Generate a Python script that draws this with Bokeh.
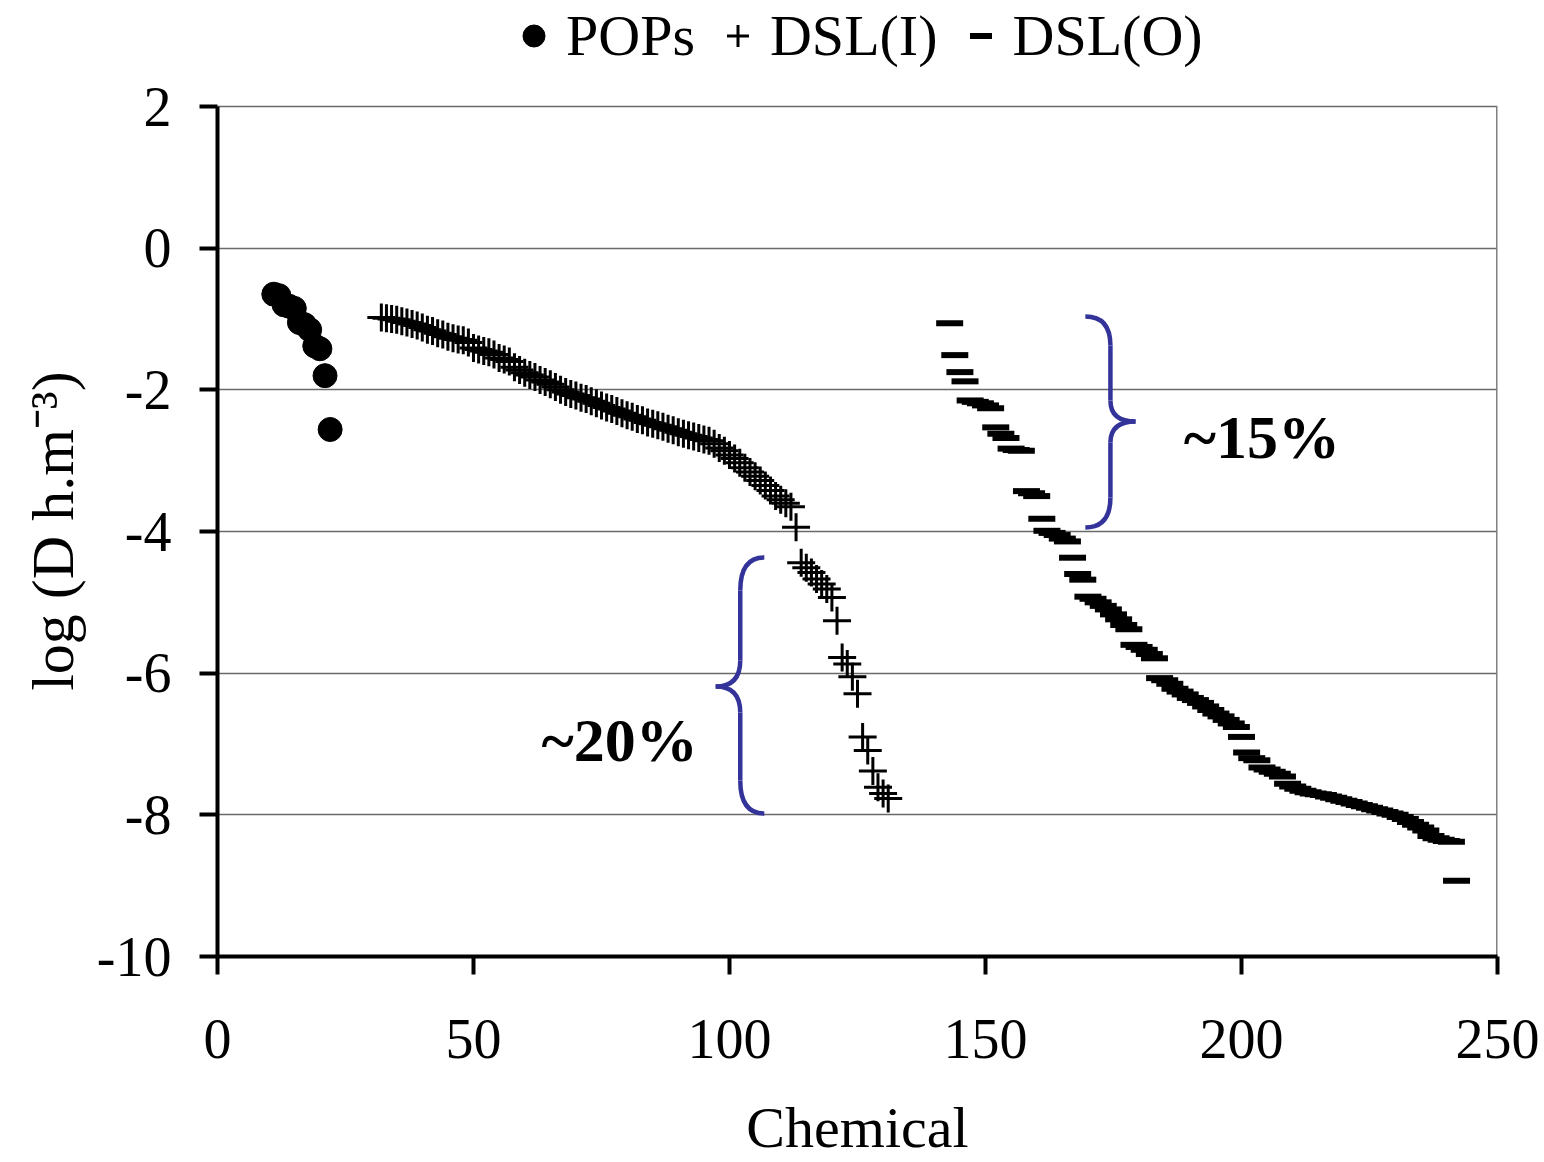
from bokeh.plotting import figure
from bokeh.models import (Range1d, FixedTicker, Legend, LegendItem, Label,
                          PrintfTickFormatter)
from bokeh.embed import file_html
from bokeh.resources import INLINE

FONT = "Liberation Serif"
BRACE_COLOR = "#333399"

# ---------------- data ----------------
pops_x = list(range(11, 23))
pops_y = [-0.65, -0.67, -0.80, -0.82, -0.85, -1.05, -1.08, -1.15, -1.38, -1.42, -1.80, -2.56]

dsli_x = list(range(32, 132))
dsli_y = [
    -0.98, -0.99, -1.00, -1.01, -1.03, -1.05, -1.07, -1.09, -1.12, -1.15,
    -1.17, -1.20, -1.22, -1.25, -1.27, -1.29, -1.30, -1.33, -1.41, -1.43,
    -1.45, -1.47, -1.50, -1.55, -1.57, -1.60, -1.68, -1.72, -1.76, -1.79,
    -1.82, -1.86, -1.89, -1.92, -1.96, -2.00, -2.03, -2.06, -2.08, -2.11,
    -2.13, -2.16, -2.19, -2.22, -2.25, -2.27, -2.30, -2.33, -2.36, -2.38,
    -2.41, -2.43, -2.46, -2.48, -2.50, -2.52, -2.55, -2.57, -2.60, -2.62,
    -2.64, -2.66, -2.68, -2.70, -2.72, -2.76, -2.82, -2.86, -2.92, -2.97,
    -3.03, -3.10, -3.16, -3.22, -3.28, -3.35, -3.42, -3.50, -3.55, -3.60,
    -3.65, -3.94, -4.44, -4.51, -4.58, -4.67, -4.74, -4.81, -4.93, -5.26,
    -5.78, -5.87, -6.05, -6.29, -6.90, -7.09, -7.38, -7.61, -7.70, -7.77,
]

dslo_x = list(range(143, 243))
dslo_y = [
    -1.06, -1.51, -1.75, -1.88, -2.15, -2.17, -2.19, -2.22, -2.26, -2.53,
    -2.62, -2.68, -2.83, -2.85, -2.86, -3.43, -3.46, -3.50, -3.82, -3.99,
    -4.02, -4.05, -4.10, -4.14, -4.37, -4.60, -4.68, -4.92, -4.95, -5.00,
    -5.05, -5.10, -5.17, -5.24, -5.32, -5.38, -5.60, -5.63, -5.67, -5.73,
    -5.79, -6.07, -6.10, -6.15, -6.22, -6.26, -6.30, -6.35, -6.38, -6.42,
    -6.47, -6.52, -6.57, -6.61, -6.66, -6.71, -6.76, -6.90, -7.12, -7.20,
    -7.23, -7.33, -7.36, -7.39, -7.42, -7.46, -7.56, -7.60, -7.63, -7.66,
    -7.68, -7.70, -7.71, -7.72, -7.74, -7.76, -7.78, -7.80, -7.82, -7.84,
    -7.86, -7.88, -7.90, -7.92, -7.94, -7.96, -7.98, -8.00, -8.03, -8.06,
    -8.10, -8.14, -8.18, -8.22, -8.30, -8.33, -8.35, -8.37, -8.38, -8.93,
]

x_ticks = [0, 50, 100, 150, 200, 250]
y_ticks = [-10, -8, -6, -4, -2, 0, 2]
series_names = ["POPs", "DSL(I)", "DSL(O)"]
x_title = "Chemical"
# trailing no-break spaces shift the rotated title down to sit beside the plotted band
y_title = "log (D h.m\u207b\u00b3)" + "\u00a0" * 7

X_MIN, X_MAX = 0, 250
Y_MIN, Y_MAX = -10, 2
# extra headroom above the plotted area so the legend sits inside the canvas frame
Y_TOP = Y_MAX + 106 / (850 / 12)

# ---------------- figure ----------------
p = figure(width=1544, height=1162, output_backend="svg", toolbar_location=None,
           x_range=Range1d(X_MIN, X_MAX), y_range=Range1d(Y_MIN, Y_TOP),
           min_border_left=217, min_border_right=47, min_border_top=0, min_border_bottom=206)
p.background_fill_color = "white"
p.border_fill_color = "white"
p.outline_line_color = None

p.xgrid.visible = False
p.ygrid.grid_line_color = "#6a6a6a"
p.ygrid.grid_line_width = 1.3

p.xaxis.ticker = FixedTicker(ticks=x_ticks)
p.yaxis.ticker = FixedTicker(ticks=y_ticks)
p.yaxis.bounds = (Y_MIN, Y_MAX)
for ax in (p.xaxis, p.yaxis):
    ax.formatter = PrintfTickFormatter(format="%d")
    ax.axis_line_width = 4
    ax.axis_line_color = "black"
    ax.major_tick_line_width = 4
    ax.major_tick_line_color = "black"
    ax.major_tick_out = 18
    ax.major_tick_in = 0
    ax.minor_tick_out = 0
    ax.minor_tick_in = 0
    ax.major_label_text_font = FONT
    ax.major_label_text_font_size = "56px"
    ax.major_label_text_color = "black"
    ax.axis_label_text_font = FONT
    ax.axis_label_text_font_style = "normal"
    ax.axis_label_text_color = "black"
    ax.axis_label_text_font_size = "58px"
p.yaxis.axis_label_text_font_size = "60px"
p.xaxis.major_label_standoff = 45
p.yaxis.major_label_standoff = 28
p.xaxis.axis_label = x_title
p.xaxis.axis_label_standoff = 34
p.yaxis.axis_label = y_title
p.yaxis.axis_label_standoff = 8

# right border of the plot area (frame edge at x = X_MAX)
p.segment(x0=[X_MAX], y0=[Y_MIN], x1=[X_MAX], y1=[Y_MAX], line_color="#808080", line_width=3)

r_pops = p.scatter(pops_x, pops_y, marker="circle", size=24,
                   fill_color="black", line_color="black")
r_dsli = p.scatter(dsli_x, dsli_y, marker="cross", size=28,
                   line_color="black", line_width=3)
r_dslo = p.scatter(dslo_x, dslo_y, marker="dash", size=27,
                   line_color="black", line_width=6)

legend = Legend(items=[LegendItem(label=series_names[0], renderers=[r_pops]),
                       LegendItem(label=series_names[1], renderers=[r_dsli]),
                       LegendItem(label=series_names[2], renderers=[r_dslo])],
                orientation="horizontal", location=(289, 887))
legend.glyph_width = 55
legend.glyph_height = 55
legend.label_text_font = FONT
legend.label_text_font_size = "58px"
legend.label_text_color = "black"
legend.label_standoff = 5
legend.spacing = 15
legend.padding = 0
legend.margin = 0
legend.background_fill_alpha = 0
legend.border_line_alpha = 0
p.add_layout(legend)

# ---------------- braces (annotation geometry, data units) ----------------
def brace(xe, xv, xt, y_top, y_c1, y_c2, y_tip, y_c3, y_c4, y_bot):
    p.quadratic(x0=[xe, xv, xt, xv], y0=[y_top, y_c2, y_tip, y_c4],
                x1=[xv, xt, xv, xe], y1=[y_c1, y_tip, y_c3, y_bot],
                cx=[xv, xv, xv, xv], cy=[y_top, y_tip, y_tip, y_bot],
                line_color=BRACE_COLOR, line_width=4.5)
    p.segment(x0=[xv, xv], y0=[y_c1, y_c3], x1=[xv, xv], y1=[y_c2, y_c4],
              line_color=BRACE_COLOR, line_width=4.5)

brace(169.5, 174.4, 179.3, -0.964, -1.374, -2.150, -2.447, -2.743, -3.520, -3.943)
brace(106.8, 102.1, 97.3, -4.367, -4.833, -5.822, -6.189, -6.556, -7.516, -7.982)

p.add_layout(Label(x=188.7, y=-2.67, text="~15%", text_font=FONT, text_font_size="62px",
                   text_font_style="bold", text_color="black",
                   text_baseline="middle", text_align="left"))
p.add_layout(Label(x=63.3, y=-6.95, text="~20%", text_font=FONT, text_font_size="62px",
                   text_font_style="bold", text_color="black",
                   text_baseline="middle", text_align="left"))

open("out.html", "w").write(file_html(p, INLINE))
